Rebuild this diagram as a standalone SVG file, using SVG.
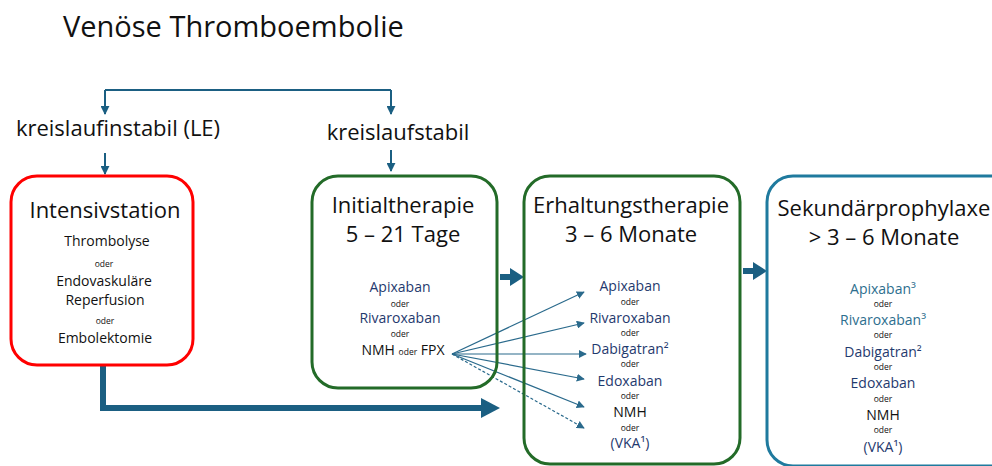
<svg xmlns="http://www.w3.org/2000/svg" width="992" height="466" viewBox="0 0 992 466">
<defs>
<style>
text{font-family:"Open Sans","Liberation Sans",sans-serif;fill:#111;text-anchor:middle}
.t{font-size:22px}
.h{font-size:22px}
.m{font-size:14px}
.o{font-size:8.5px}
.nv{fill:#1f3a6e}
.tl{fill:#2d6e8e}
.box{fill:none;stroke-width:3}
.thin{stroke:#2a6a8c;stroke-width:1.2;fill:none}
</style>
<marker id="ah" viewBox="0 0 10 10" refX="9" refY="5" markerWidth="8" markerHeight="8" markerUnits="userSpaceOnUse" orient="auto"><path d="M0,0 L10,5 L0,10 z" fill="#2a6a8c"/></marker>
<marker id="ah2" viewBox="0 0 10 10" refX="9" refY="5" markerWidth="9" markerHeight="9" markerUnits="userSpaceOnUse" orient="auto"><path d="M0,0 L10,5 L0,10 z" fill="#1b5f82"/></marker>
</defs>
<rect width="992" height="466" fill="#fff"/>
<text x="63" y="37" style="font-size:29px;text-anchor:start">Venöse Thromboembolie</text>

<g id="connectors">
<path d="M105,90 H391" stroke="#1b5f82" stroke-width="2" fill="none"/>
<path d="M105,90 V114" stroke="#1b5f82" stroke-width="2" fill="none" marker-end="url(#ah2)"/>
<path d="M391,90 V114" stroke="#1b5f82" stroke-width="2" fill="none" marker-end="url(#ah2)"/>
<path d="M105,153 V174" stroke="#1b5f82" stroke-width="2" fill="none" marker-end="url(#ah2)"/>
<path d="M391,150 V171" stroke="#1b5f82" stroke-width="2" fill="none" marker-end="url(#ah2)"/>
<path d="M103,366 V408 H484" stroke="#1b5f82" stroke-width="6" fill="none"/>
<polygon points="481,398 500,408 481,418" fill="#1b5f82"/>
<path d="M500,277 H512" stroke="#1b5f82" stroke-width="6" fill="none"/>
<polygon points="510,268 524,277 510,286" fill="#1b5f82"/>
<path d="M743,271 H755" stroke="#1b5f82" stroke-width="6" fill="none"/>
<polygon points="753,262 767,271 753,280" fill="#1b5f82"/>
<path class="thin" d="M452,354 L584,292" marker-end="url(#ah)"/>
<path class="thin" d="M452,354 L584,323" marker-end="url(#ah)"/>
<path class="thin" d="M452,354 L586,354" marker-end="url(#ah)"/>
<path class="thin" d="M452,354 L584,379" marker-end="url(#ah)"/>
<path class="thin" d="M452,354 L584,407" marker-end="url(#ah)"/>
<path class="thin" d="M452,354 L584,428" stroke-dasharray="3,2" marker-end="url(#ah)"/>
</g>

<g id="label-instabil"><text class="t" x="118" y="136">kreislaufinstabil (LE)</text></g>
<g id="label-stabil"><text class="t" x="398" y="140">kreislaufstabil</text></g>

<g id="intensivstation">
<rect class="box" x="11" y="176" width="182" height="189" rx="26" stroke="#ff0000"/>
<text class="h" x="105" y="218">Intensivstation</text>
<text class="m" x="107" y="246">Thrombolyse</text>
<text class="o" x="104" y="267">oder</text>
<text class="m" x="104" y="286">Endovaskuläre</text>
<text class="m" x="105" y="305">Reperfusion</text>
<text class="o" x="105" y="324">oder</text>
<text class="m" x="105" y="343">Embolektomie</text>
</g>

<g id="initialtherapie">
<rect class="box" x="312" y="176" width="185" height="212" rx="26" stroke="#236b28"/>
<text class="h" x="403" y="213">Initialtherapie</text>
<text class="h" x="403" y="242">5 – 21 Tage</text>
<text class="m nv" x="400" y="292">Apixaban</text>
<text class="o" x="400" y="307">oder</text>
<text class="m nv" x="400" y="323">Rivaroxaban</text>
<text class="o" x="400" y="337">oder</text>
<text class="m" x="403" y="355">NMH <tspan style="font-size:8.5px">oder</tspan> FPX</text>
</g>

<g id="erhaltungstherapie">
<rect class="box" x="524" y="176" width="216" height="288" rx="26" stroke="#236b28"/>
<text class="h" x="631" y="213">Erhaltungstherapie</text>
<text class="h" x="631" y="242">3 – 6 Monate</text>
<text class="m nv" x="630" y="291">Apixaban</text>
<text class="o" x="630" y="305">oder</text>
<text class="m nv" x="630" y="323">Rivaroxaban</text>
<text class="o" x="630" y="336">oder</text>
<text class="m nv" x="630" y="354">Dabigatran²</text>
<text class="o" x="630" y="367">oder</text>
<text class="m nv" x="630" y="386">Edoxaban</text>
<text class="o" x="630" y="399">oder</text>
<text class="m" x="630" y="417">NMH</text>
<text class="o" x="630" y="431">oder</text>
<text class="m nv" x="630" y="448">(VKA¹)</text>
</g>

<g id="sekundaerprophylaxe">
<rect class="box" x="767" y="176" width="250" height="290" rx="26" stroke="#1f7a9e"/>
<text class="h" x="884" y="216">Sekundärprophylaxe</text>
<text class="h" x="884" y="245">&gt; 3 – 6 Monate</text>
<text class="m tl" x="883" y="294">Apixaban³</text>
<text class="o" x="883" y="307">oder</text>
<text class="m tl" x="883" y="325">Rivaroxaban³</text>
<text class="o" x="883" y="338">oder</text>
<text class="m nv" x="883" y="357">Dabigatran²</text>
<text class="o" x="883" y="370">oder</text>
<text class="m nv" x="883" y="388">Edoxaban</text>
<text class="o" x="883" y="402">oder</text>
<text class="m" x="883" y="420">NMH</text>
<text class="o" x="883" y="433">oder</text>
<text class="m nv" x="883" y="452">(VKA¹)</text>
</g>
</svg>
